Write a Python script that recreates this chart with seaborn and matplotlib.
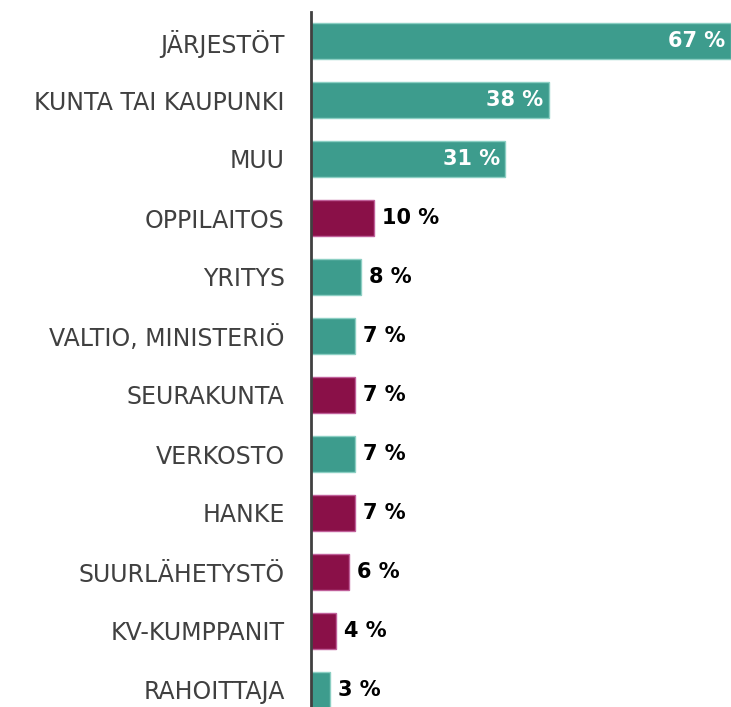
import matplotlib
matplotlib.use("Agg")
import matplotlib.pyplot as plt
import seaborn as sns
import pandas as pd

# Data
categories = ["JÄRJESTÖT", "KUNTA TAI KAUPUNKI", "MUU", "OPPILAITOS", "YRITYS",
              "VALTIO, MINISTERIÖ", "SEURAKUNTA", "VERKOSTO", "HANKE",
              "SUURLÄHETYSTÖ", "KV-KUMPPANIT", "RAHOITTAJA"]
values = [67, 38, 31, 10, 8, 7, 7, 7, 7, 6, 4, 3]
groups = ["a", "a", "a", "b", "a", "a", "b", "a", "b", "b", "b", "a"]

TEAL = "#3d9c8d"
PLUM = "#8a1048"
edge = {"a": "#8ccfc3", "b": "#c0609a"}

df = pd.DataFrame({"cat": categories, "val": values, "grp": groups})

sns.set_style("white")
plt.rcParams["font.family"] = ["DejaVu Sans"]

fig = plt.figure(figsize=(7.31, 7.07), dpi=100)
ax = fig.add_axes([311 / 731, -12.5 / 707, 420 / 731, 708 / 707])

sns.barplot(data=df, y="cat", x="val", hue="grp", palette={"a": TEAL, "b": PLUM},
            saturation=1, dodge=False, width=0.6, legend=False, ax=ax, linewidth=1)

# lighter outline per bar, like the reference
for container in ax.containers:
    for bar in container:
        if bar.get_width() == 0:
            continue
        idx = int(round(bar.get_y() + bar.get_height() / 2))
        bar.set_edgecolor(edge[groups[idx]])

for i, v in enumerate(values):
    if v > 20:
        ax.text(v - 0.9, i, f"{v} %", ha="right", va="center", color="white",
                fontsize=15, fontweight="bold")
    else:
        ax.text(v + 1.3, i, f"{v} %", ha="left", va="center", color="black",
                fontsize=15, fontweight="bold")

ax.set_xlim(0, 67)
ax.set_ylim(11.5, -0.5)
ax.set_xlabel("")
ax.set_ylabel("")
ax.set_xticks([])
ax.tick_params(axis="y", length=0, pad=19, labelsize=17, labelcolor="#404040")
for s in ["top", "right", "bottom"]:
    ax.spines[s].set_visible(False)
ax.spines["left"].set_color("#404040")
ax.spines["left"].set_linewidth(2)
ax.spines["left"].set_bounds(-0.5, 11.5)

fig.savefig("out.png", dpi=100)
